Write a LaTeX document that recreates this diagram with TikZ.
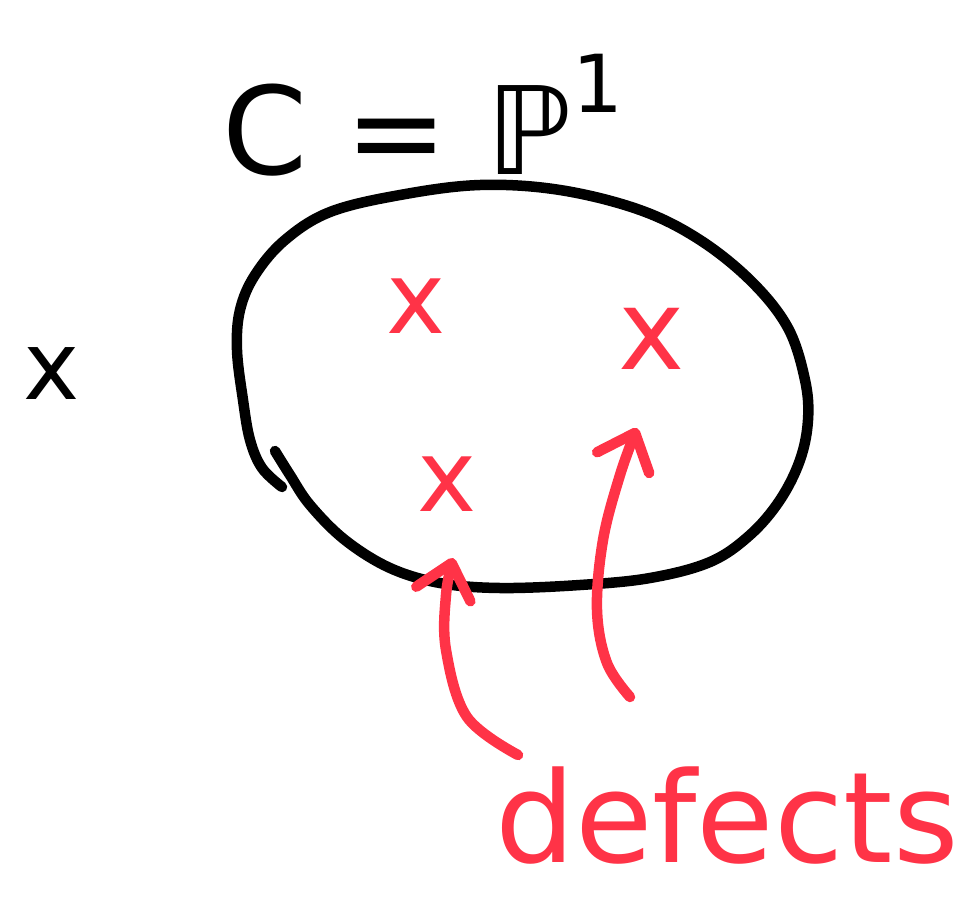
\documentclass[tikz,border=0pt]{standalone}
\usepackage{fontspec}
\setmainfont{DejaVu Sans}
\usetikzlibrary{arrows.meta}
\definecolor{pen}{RGB}{255,51,71}
\tikzset{
  ink/.style={line width=10.5pt, line cap=round, line join=round},
  hand/.style={inner sep=0pt, outer sep=0pt},
  redink/.style={ink, draw=pen, -{Straight Barb[length=32pt,width=56pt,round]}},
}
\begin{document}
\begin{tikzpicture}[x=1pt,y=-1pt]
\useasboundingbox (0,0) rectangle (980,897);
% title
\node[hand, anchor=base west] (title) at (222,174)
  {\fontsize{122}{124}\selectfont C = ℙ\raisebox{62pt}{\fontsize{80}{80}\selectfont 1}};
% point label
\node[hand] (xlabel) at (52,374) {\fontsize{95}{95}\selectfont x};
% curve C
\draw[ink] plot[smooth, tension=0.6] coordinates {
  (282,487) (262,468) (250,440) (243,400) (237,350) (240,310) (255,275)
  (285,240) (330,212) (400,195) (480,185) (560,190) (640,210) (700,240)
  (752,282) (788,328) (805,380) (808,420) (800,460) (780,500) (750,535)
  (710,562) (650,578) (580,585) (500,588) (440,583) (390,568) (345,540)
  (310,505) (290,475) (275,451)};
% defects
\node[hand, text=pen] (d1) at (416,306) {\fontsize{100}{100}\selectfont x};
\node[hand, text=pen] (d2) at (652,339) {\fontsize{112}{112}\selectfont x};
\node[hand, text=pen] (d3) at (447,484) {\fontsize{100}{100}\selectfont x};
\node[hand, text=pen, anchor=base west] (defects) at (495,862)
  {\fontsize{126}{126}\selectfont defects};
% arrows
\coordinate (a1s) at (518,755);
\coordinate (a1e) at (453,558);
\coordinate (a2s) at (630,697);
\coordinate (a2e) at (637,428);
\draw[redink] plot[smooth, tension=0.6] coordinates {
  (a1s) (467,717) (446,650) (446,595) (a1e)};
\draw[redink] plot[smooth, tension=0.6] coordinates {
  (a2s) (607,663) (597,610) (603,540) (620,475) (a2e)};
\end{tikzpicture}
\end{document}
